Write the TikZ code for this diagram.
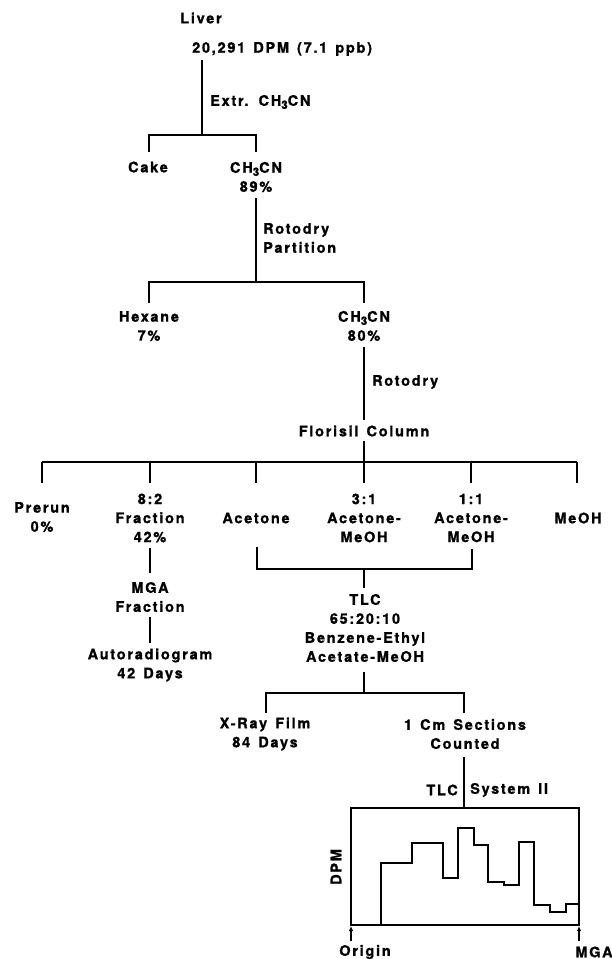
\documentclass[tikz,border=0pt]{standalone}
\usepackage{fontspec}
\usetikzlibrary{arrows.meta}
\newfontfamily\lblfam{TeX Gyre Heros}[LetterSpace=12, WordSpace=1.4, BoldFeatures={FakeBold=1}]
\newcommand\lbl{\lblfam\bfseries\fontsize{14.5}{19}\selectfont}
\newcommand\sbt[1]{\raisebox{-0.4ex}{\fontsize{11.5}{11.5}\selectfont #1}}
\begin{document}
\begin{tikzpicture}[x=1pt,y=-1pt,
  lab/.style={font=\lbl, inner sep=0pt, align=center},
  ln/.style={line width=1.1pt, line cap=butt},
  upar/.style={line width=1.1pt, -{Latex[length=5pt,width=4.5pt]}}]
\useasboundingbox (0,0) rectangle (612,959);
% ---------- nodes ----------
\node[lab] (liver) at (201,18) {Liver};
\node[lab, anchor=west] (dpm) at (192,49) {20,291 DPM (7.1 ppb)};
\node[lab, anchor=west] (extr) at (210,102) {Extr. CH\sbt{3}CN};
\node[lab] (cake) at (148,167) {Cake};
\node[lab] (ch1) at (256,177) {CH\sbt{3}CN\\89\%};
\node[lab, anchor=west, align=left] (roto1) at (263,238) {Rotodry\\Partition};
\node[lab] (hex) at (149,326) {Hexane\\7\%};
\node[lab] (ch2) at (364,326) {CH\sbt{3}CN\\80\%};
\node[lab, anchor=west] (roto2) at (372,382) {Rotodry};
\node[lab] (flor) at (364,431) {Florisil Column};
\node[lab] (prerun) at (42,517) {Prerun\\0\%};
\node[lab] (f82) at (150,518) {8:2\\Fraction\\42\%};
\node[lab] (acet) at (256,518) {Acetone};
\node[lab] (a31) at (364,518) {3:1\\Acetone-\\MeOH};
\node[lab] (a11) at (471,518) {1:1\\Acetone-\\MeOH};
\node[lab] (meoh) at (578,518) {MeOH};
\node[lab] (mga) at (150,597) {MGA\\Fraction};
\node[lab] (auto) at (150,665) {Autoradiogram\\42 Days};
\node[lab] (tlc) at (365,628) {TLC\\65:20:10\\Benzene-Ethyl\\Acetate-MeOH};
\node[lab] (xray) at (265,734) {X-Ray Film\\84 Days};
\node[lab] (cm) at (465,734) {1 Cm Sections\\Counted};
\node[lab, anchor=east] (tlcii) at (458,790) {TLC};
\node[lab, anchor=west] (sysii) at (470,790) {System II};
\node[lab, rotate=90] (dpmax) at (336,867) {DPM};
\node[lab] (origin) at (365,952) {Origin};
\node[lab] (mgaax) at (594,952) {MGA};
% ---------- connector end points ----------
\coordinate (dpmb) at (202,60);
\coordinate (j1) at (202,135);
\coordinate (j1l) at (149,135);
\coordinate (j1r) at (256,135);
\coordinate (caket) at (149,152);
\coordinate (ch1t) at (256,152);
\coordinate (ch1b) at (256,198);
\coordinate (j2) at (256,282);
\coordinate (j2l) at (149,282);
\coordinate (j2r) at (364,282);
\coordinate (hext) at (149,303);
\coordinate (ch2t) at (364,303);
\coordinate (ch2b) at (364,347);
\coordinate (flort) at (364,420);
\coordinate (florb) at (364,441);
\coordinate (j3) at (364,462);
\coordinate (j3l) at (42,462);
\coordinate (j3r) at (577,462);
\coordinate (prt) at (42,483);
\coordinate (f82t) at (150,483);
\coordinate (act) at (256,483);
\coordinate (a31t) at (364,483);
\coordinate (a11t) at (471,483);
\coordinate (meoht) at (577,483);
\coordinate (f82b) at (150,548);
\coordinate (mgat) at (150,573);
\coordinate (mgab) at (150,617);
\coordinate (autot) at (150,643);
\coordinate (acb) at (257,547);
\coordinate (a11b) at (472,549);
\coordinate (k1) at (257,569);
\coordinate (k2) at (472,569);
\coordinate (k3) at (364,569);
\coordinate (tlct) at (364,588);
\coordinate (tlcb) at (364,672);
\coordinate (j4) at (364,693);
\coordinate (j4l) at (266,693);
\coordinate (j4r) at (464,693);
\coordinate (xrt) at (266,713);
\coordinate (cmt) at (464,713);
\coordinate (cmb) at (464,757);
\coordinate (boxtop) at (464,808);
\coordinate (boxtl) at (351,808);
\coordinate (boxbr) at (579,925);
\coordinate (arl) at (351,941);
\coordinate (arr) at (579,941);
\coordinate (arlt) at (351,926);
\coordinate (arrt) at (579,926);
% ---------- connectors ----------
\draw[ln] (dpmb) -- (j1);
\draw[ln] (caket) -- (j1l) -- (j1r) -- (ch1t);
\draw[ln] (ch1b) -- (j2);
\draw[ln] (hext) -- (j2l) -- (j2r) -- (ch2t);
\draw[ln] (ch2b) -- (flort);
\draw[ln] (florb) -- (j3) -- (a31t);
\draw[ln] (j3l) -- (j3r);
\draw[ln] (j3l) -- (prt);
\draw[ln] (j3 -| f82t) -- (f82t);
\draw[ln] (j3 -| act) -- (act);
\draw[ln] (j3 -| a11t) -- (a11t);
\draw[ln] (j3r) -- (meoht);
\draw[ln] (f82b) -- (mgat);
\draw[ln] (mgab) -- (autot);
\draw[ln] (acb) -- (k1) -- (k2) -- (a11b);
\draw[ln] (k3) -- (tlct);
\draw[ln] (tlcb) -- (j4);
\draw[ln] (xrt) -- (j4l) -- (j4r) -- (cmt);
\draw[ln] (cmb) -- (boxtop);
% ---------- chart ----------
\draw[ln] (boxtl) rectangle (boxbr);
\draw[ln, line join=miter] (381,925) -- (381,863) -- (412,863) -- (412,843) -- (443,843) -- (443,878)
  -- (458,878) -- (458,828) -- (474,828) -- (474,845) -- (488,845) -- (488,882)
  -- (504,882) -- (504,885) -- (519,885) -- (519,842) -- (534,842) -- (534,905)
  -- (550,905) -- (550,912) -- (566,912) -- (566,904) -- (579,904);
\draw[upar] (arl) -- (arlt);
\draw[upar] (arr) -- (arrt);
\end{tikzpicture}
\end{document}
